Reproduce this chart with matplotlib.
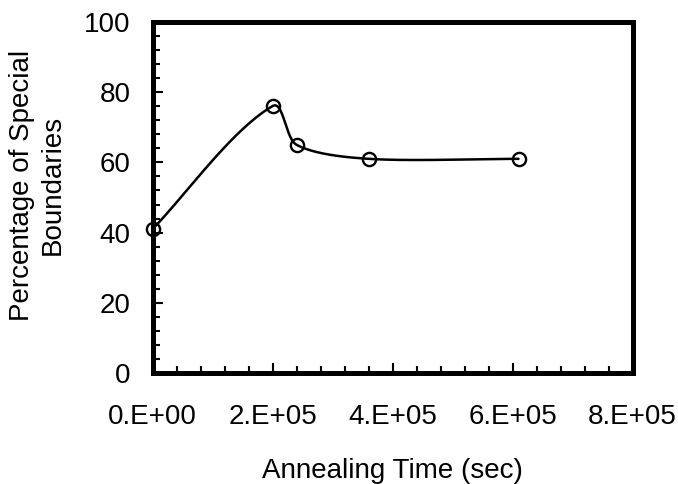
import numpy as np
import matplotlib
matplotlib.use("Agg")
import matplotlib.pyplot as plt
from matplotlib.ticker import MultipleLocator, FuncFormatter

time_sec = [0, 2.0e5, 2.4e5, 3.6e5, 6.1e5]
special_pct = [41, 76, 65, 61, 61]
x_tick_labels = ["0.E+00", "2.E+05", "4.E+05", "6.E+05", "8.E+05"]

plt.rcParams['font.family'] = ['Liberation Sans', 'DejaVu Sans']

W, H = 678, 484
L, R, T, B = 152.5, 632.5, 21.7, 373.3
XMAX, YMAX = 8e5, 100

def smooth_curve(x, y, k=0.28, n=60):
    # Excel-like smoothing: Bezier segments, tangents scaled by chord length (pixel space)
    sx = (R - L) / XMAX
    sy = (B - T) / YMAX
    P = np.column_stack([np.asarray(x, float) * sx, np.asarray(y, float) * sy])
    m = len(P)
    xs, ys = [], []
    for i in range(m - 1):
        p0 = P[max(i - 1, 0)]; p1 = P[i]; p2 = P[i + 1]; p3 = P[min(i + 2, m - 1)]
        d12 = np.linalg.norm(p2 - p1)
        t1 = p2 - p0; t1 = t1 / np.linalg.norm(t1)
        t2 = p3 - p1; t2 = t2 / np.linalg.norm(t2)
        c1 = p1 + k * d12 * t1
        c2 = p2 - k * d12 * t2
        t = np.linspace(0, 1, n)[:, None]
        b = ((1 - t) ** 3) * p1 + 3 * ((1 - t) ** 2) * t * c1 + 3 * (1 - t) * (t ** 2) * c2 + (t ** 3) * p2
        xs.extend(b[:, 0] / sx); ys.extend(b[:, 1] / sy)
    return np.array(xs), np.array(ys)

fig = plt.figure(figsize=(W / 100, H / 100), dpi=100)
ax = fig.add_axes([L / W, 1 - B / H, (R - L) / W, (B - T) / H])

cx, cy = smooth_curve(time_sec, special_pct)
ax.plot(cx, cy, color='black', lw=1.8, zorder=3, solid_capstyle='round')
ax.plot(time_sec, special_pct, linestyle='none', marker='o', ms=9.5,
        mfc='none', mec='black', mew=1.7, zorder=4, clip_on=False)

ax.set_xlim(0, XMAX)
ax.set_ylim(0, YMAX)
ax.xaxis.set_major_locator(MultipleLocator(2e5))
ax.xaxis.set_minor_locator(MultipleLocator(4e4))
ax.yaxis.set_major_locator(MultipleLocator(20))
ax.yaxis.set_minor_locator(MultipleLocator(4))
ax.xaxis.set_major_formatter(FuncFormatter(
    lambda v, p: x_tick_labels[int(round(v / 2e5))] if 0 <= round(v / 2e5) < len(x_tick_labels) else ""))

for s in ax.spines.values():
    s.set_linewidth(3.6)
ax.tick_params(which='both', direction='in', top=False, right=False,
               labelsize=20, width=1.5, colors='black')
ax.tick_params(which='major', length=7.2)
ax.tick_params(axis='x', which='major', pad=22)
ax.tick_params(axis='y', which='major', pad=16)
ax.tick_params(which='minor', length=5.2)

fig.text(392.5 / W, 1 - 478 / H, "Annealing Time (sec)", fontsize=20,
         ha='center', va='baseline')
fig.text(37.5 / W, 1 - 185 / H, "Percentage of Special\nBoundaries", fontsize=20,
         ha='center', va='center', rotation=90, multialignment='center')

fig.savefig("out.png", dpi=100)
